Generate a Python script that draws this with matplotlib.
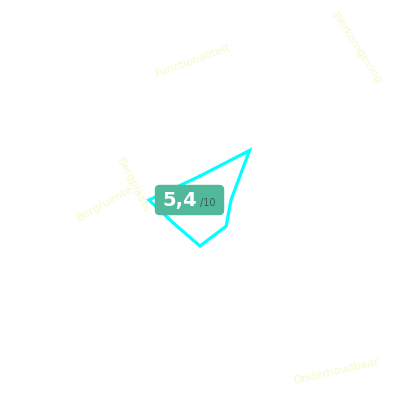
import numpy as np
import matplotlib
matplotlib.use('Agg')
import matplotlib.pyplot as plt
from matplotlib.patches import FancyBboxPatch

# radar data (8 axes, counter-clockwise from the top)
axis_names = ['as1', 'as2', 'as3', 'as4', 'as5', 'as6', 'as7', 'as8']
axis_angles = [90, 45, 0, -45, -90, -135, 180, 135]
values = [2.4, 7.0, 3.1, 3.7, 4.6, 3.5, 5.1, 2.3]
score = '5,4'

# faint labels scattered around the chart
labels = ['Functionaliteit', 'Werkomgeving', 'Onderhoudbaar', 'Bergruimte', 'Bergplaats']
label_pos = [(193, 61), (357, 47), (336, 371), (105, 203), (133, 185)]
label_rot = [20, -57, 13, 29, -63]

fig = plt.figure(figsize=(4, 4), dpi=100)
ax = fig.add_axes([0.25, 0.25, 0.5, 0.5], projection='polar')
theta = np.deg2rad(axis_angles + axis_angles[:1])
r = values + values[:1]
ax.plot(theta, r, color='#00ffff', lw=2.3, solid_joinstyle='miter')
ax.set_ylim(0, 10)
ax.axis('off')

for txt, (x, y), rot in zip(labels, label_pos, label_rot):
    fig.text(x / 400, 1 - y / 400, txt, rotation=rot, ha='center', va='center',
             fontsize=8, color='#f8f8cc', rotation_mode='anchor')

# score badge
badge = FancyBboxPatch((158 / 400, 1 - 212 / 400), 63 / 400, 24 / 400,
                       boxstyle='round,pad=0.008,rounding_size=0.012',
                       transform=fig.transFigure, fc='#52b89b', ec='none')
fig.patches.append(badge)
fig.text(197 / 400, 1 - 201 / 400, score, ha='right', va='center', fontsize=14,
         fontweight='bold', color='white')
fig.text(200 / 400, 1 - 203 / 400, '/10', ha='left', va='center', fontsize=7,
         color='#35604f')

fig.savefig('out.png', dpi=100)
